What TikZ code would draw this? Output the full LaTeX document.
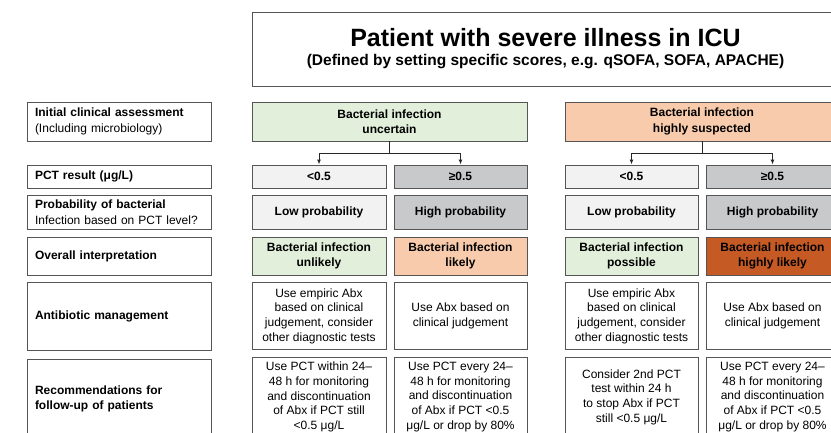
\documentclass[tikz,border=0pt]{standalone}
\usepackage{fontspec}
\setmainfont{Liberation Sans}
\usetikzlibrary{arrows.meta,positioning}

\definecolor{boxline}{HTML}{555555}
\definecolor{greenfill}{HTML}{E2EFDA}
\definecolor{peachfill}{HTML}{F8CBAD}
\definecolor{rustfill}{HTML}{C55A24}
\definecolor{palefill}{HTML}{F2F2F3}
\definecolor{greyfill}{HTML}{C8C9CA}

\tikzset{
  cell/.style={draw=boxline, line width=0.9pt, minimum width=133pt, minimum height=#1,
    inner sep=1pt, align=center, font=\fontsize{12}{14.6}\selectfont},
  cell/.default=23pt,
  bcell/.style={cell=#1, font=\fontsize{12}{15.5}\selectfont\bfseries},
  bcell/.default=23pt,
  lbl/.style={draw=boxline, line width=0.9pt, text width=168pt, inner xsep=8pt,
    minimum height=#1, align=left, font=\fontsize{12}{15.5}\selectfont},
  conn/.style={draw=black!85, line width=1pt},
  arr/.style={conn, -{Latex[length=5pt,width=4pt]}}
}

\begin{document}
\begin{tikzpicture}[x=1pt,y=-1pt]

\useasboundingbox (0,0) rectangle (831,432);
\clip (0,0) rectangle (831,432);

% title
\node [draw=boxline, line width=0.9pt, minimum width=587pt, minimum height=74pt, align=center]
  (title) at (545.5,49) {{\fontsize{25}{28}\selectfont\bfseries Patient with severe illness in ICU}\\[7pt]
  {\fontsize{15.5}{17}\selectfont\bfseries (Defined by setting specific scores, e.g. qSOFA, SOFA, APACHE)}};

% row labels
\node [lbl=39pt] (lblinit) at (119,121.5) {\textbf{Initial clinical assessment}\\(Including microbiology)};
\node [lbl=23pt] (lblpct) at (119,176.5) {\textbf{PCT result (μg/L)}};
\node [lbl=34pt] (lblprob) at (119,212) {\textbf{Probability of bacterial}\\Infection based on PCT level?};
\node [lbl=38pt] (lblover) at (119,256) {\textbf{Overall interpretation}};
\node [lbl=68pt] (lblabx) at (119,316) {\textbf{Antibiotic management}};
\node [lbl=80pt] (lblrec) at (119,399) {\textbf{Recommendations for}\\\textbf{follow-up of patients}};

% initial assessment
\node [bcell=39pt, fill=greenfill, minimum width=275pt] (uncertain) at (389.5,121.5) {Bacterial infection\\uncertain};
\node [bcell=39pt, fill=peachfill, minimum width=274pt] (suspected) at (702,121.5) {Bacterial infection\\highly suspected};

% PCT result
\node [bcell, fill=palefill, minimum width=134pt] (pcta) at (319,176.5) {<0.5};
\node [bcell, fill=greyfill] (pctb) at (460.5,176.5) {≥0.5};
\node [bcell, fill=palefill] (pctc) at (631.5,176.5) {<0.5};
\node [bcell, fill=greyfill] (pctd) at (772.5,176.5) {≥0.5};

% probability
\node [bcell=34pt, fill=palefill, minimum width=134pt] (proba) at (319,212) {Low probability};
\node [bcell=34pt, fill=greyfill] (probb) at (460.5,212) {High probability};
\node [bcell=34pt, fill=palefill] (probc) at (631.5,212) {Low probability};
\node [bcell=34pt, fill=greyfill] (probd) at (772.5,212) {High probability};

% overall interpretation
\node [bcell=38pt, fill=greenfill, minimum width=134pt] (overa) at (319,256) {Bacterial infection\\unlikely};
\node [bcell=38pt, fill=peachfill] (overb) at (460.5,256) {Bacterial infection\\likely};
\node [bcell=38pt, fill=greenfill] (overc) at (631.5,256) {Bacterial infection\\possible};
\node [bcell=38pt, fill=rustfill] (overd) at (772.5,256) {Bacterial infection\\highly likely};

% antibiotic management
\node [cell=67pt, minimum width=134pt] (abxa) at (319,316) {Use empiric Abx\\based on clinical\\judgement, consider\\other diagnostic tests};
\node [cell=67pt] (abxb) at (460.5,316) {Use Abx based on\\clinical judgement};
\node [cell=67pt] (abxc) at (631.5,316) {Use empiric Abx\\based on clinical\\judgement, consider\\other diagnostic tests};
\node [cell=67pt] (abxd) at (772.5,316) {Use Abx based on\\clinical judgement};

% follow-up
\node [cell=80pt, minimum width=134pt] (reca) at (319,397) {Use PCT within 24–\\48 h for monitoring\\and discontinuation\\of Abx if PCT still\\<0.5 μg/L};
\node [cell=80pt] (recb) at (460.5,397) {Use PCT every 24–\\48 h for monitoring\\and discontinuation\\of Abx if PCT <0.5\\μg/L or drop by 80\%};
\node [cell=80pt] (recc) at (631.5,397) {Consider 2nd PCT\\test within 24 h\\to stop Abx if PCT\\still <0.5 μg/L};
\node [cell=80pt] (recd) at (772.5,397) {Use PCT every 24–\\48 h for monitoring\\and discontinuation\\of Abx if PCT <0.5\\μg/L or drop by 80\%};

% branches
\draw [conn] (uncertain.south) -- (uncertain.south |- 0,153) coordinate (forkl);
\draw [arr] (forkl) -| (pcta.north);
\draw [arr] (forkl) -| (pctb.north);
\draw [conn] (suspected.south) -- (suspected.south |- 0,153) coordinate (forkr);
\draw [arr] (forkr) -| (pctc.north);
\draw [arr] (forkr) -| (pctd.north);

\end{tikzpicture}
\end{document}
